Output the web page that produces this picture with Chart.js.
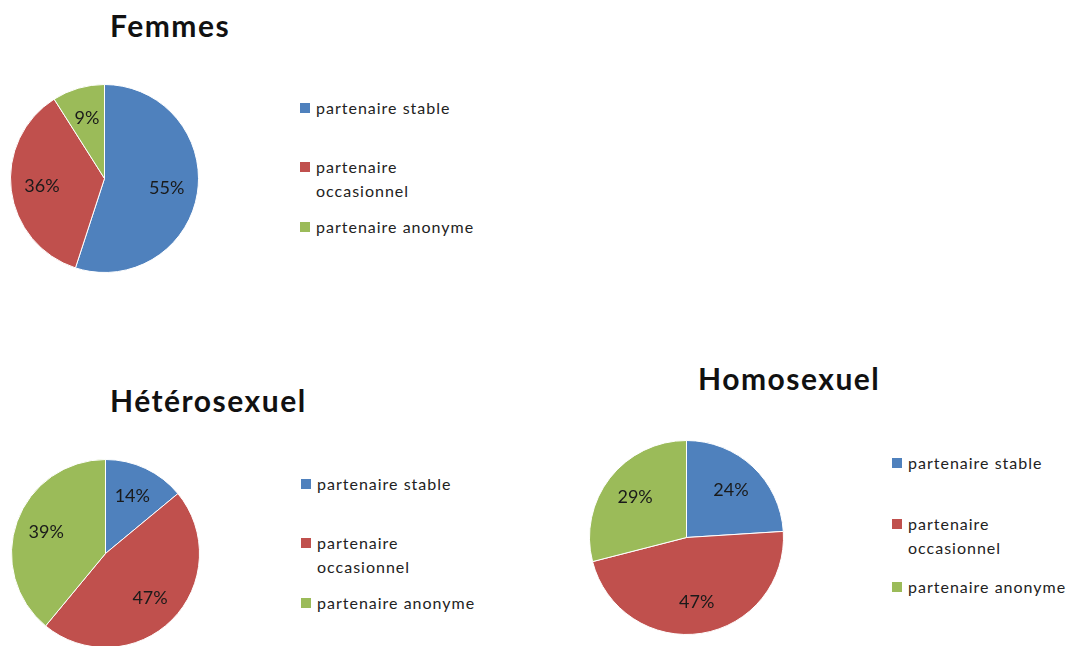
<!DOCTYPE html>
<html>
<head>
<meta charset="utf-8">
<script src="https://cdn.jsdelivr.net/npm/chart.js@4"></script>
<style>
  html, body { margin:0; padding:0; background:#fff; width:1081px; height:646px; overflow:hidden; }
  body { position:relative; font-family: Lato, "Open Sans", sans-serif; }
  .titre { position:absolute; font-weight:bold; font-size:30px; letter-spacing:1.5px; color:#111; white-space:nowrap; line-height:36px; }
  .pie { position:absolute; }
  .legende { position:absolute; font-size:16px; letter-spacing:1px; color:#222; }
  .item { position:absolute; left:0; white-space:nowrap; line-height:24px; }
  .item span.carre { position:absolute; left:0; top:7px; width:10px; height:10px; }
  .item span.txt { display:block; padding-left:16px; }
</style>
</head>
<body>
<script>
const categories = ["partenaire stable", "partenaire occasionnel", "partenaire anonyme"];
const couleurs = ["#4F81BD", "#C0504D", "#9BBB59"];

const femmes = [55, 36, 9];
const hetero = [14, 47, 39];
const homo = [24, 47, 29];

// position des blocs (titre, camembert, legende)
const blocs = [
  { titre: "Femmes", data: femmes, cx: 104, cy: 178, r: 94, tx: 110, ty: 7,
    lx: 300, lys: [96, 155, 215] },
  { titre: "Hétérosexuel", data: hetero, cx: 105, cy: 553, r: 94, tx: 110, ty: 382,
    lx: 301, lys: [472, 531, 591] },
  { titre: "Homosexuel", data: homo, cx: 686, cy: 537, r: 97, tx: 698, ty: 360,
    lx: 892, lys: [451, 512, 575] }
];

const etiquettes = {
  id: 'etiquettes',
  afterDatasetsDraw(chart) {
    const ctx = chart.ctx;
    const meta = chart.getDatasetMeta(0);
    const d = chart.data.datasets[0].data;
    ctx.save();
    ctx.font = "18px Lato, 'Open Sans', sans-serif";
    ctx.fillStyle = "#1a1a1a";
    ctx.textAlign = "center";
    ctx.textBaseline = "middle";
    meta.data.forEach((arc, i) => {
      const a = (arc.startAngle + arc.endAngle) / 2;
      const rr = arc.outerRadius * 0.67;
      ctx.fillText(d[i] + "%", arc.x + Math.cos(a) * rr, arc.y + Math.sin(a) * rr);
    });
    ctx.restore();
  }
};

blocs.forEach(b => {
  const t = document.createElement("div");
  t.className = "titre";
  t.style.left = b.tx + "px";
  t.style.top = b.ty + "px";
  t.textContent = b.titre;
  document.body.appendChild(t);

  const c = document.createElement("canvas");
  const taille = 2 * b.r + 1;
  c.className = "pie";
  c.width = taille;
  c.height = taille;
  c.style.width = taille + "px";
  c.style.height = taille + "px";
  c.style.left = (b.cx - taille / 2) + "px";
  c.style.top = (b.cy - taille / 2) + "px";
  document.body.appendChild(c);

  new Chart(c, {
    type: 'pie',
    data: {
      labels: categories,
      datasets: [{
        data: b.data,
        backgroundColor: couleurs,
        borderColor: "#ffffff",
        borderWidth: 1
      }]
    },
    options: {
      responsive: false,
      animation: false,
      layout: { padding: 0 },
      plugins: { legend: { display: false }, tooltip: { enabled: false } }
    },
    plugins: [etiquettes]
  });

  const lg = document.createElement("div");
  lg.className = "legende";
  lg.style.left = b.lx + "px";
  lg.style.top = "0px";
  categories.forEach((cat, i) => {
    const it = document.createElement("div");
    it.className = "item";
    it.style.top = b.lys[i] + "px";
    const sq = document.createElement("span");
    sq.className = "carre";
    sq.style.background = couleurs[i];
    const tx = document.createElement("span");
    tx.className = "txt";
    tx.innerHTML = cat == "partenaire occasionnel" ? "partenaire<br>occasionnel" : cat;
    it.appendChild(sq);
    it.appendChild(tx);
    lg.appendChild(it);
  });
  document.body.appendChild(lg);
});
</script>
</body>
</html>
